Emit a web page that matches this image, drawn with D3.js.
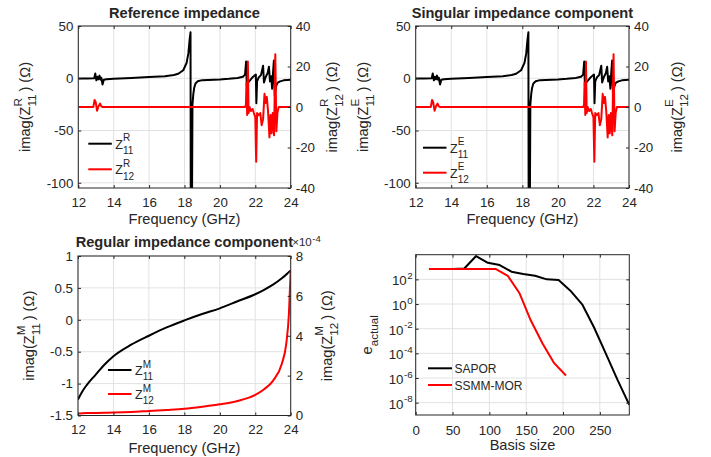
<!DOCTYPE html>
<html>
<head>
<meta charset="utf-8">
<script src="https://cdn.jsdelivr.net/npm/d3@7"></script>
<style>
  body { margin: 0; background: #fff; }
  svg text { font-family: "Liberation Sans", Arial, Helvetica, sans-serif; fill: #262626; }
</style>
</head>
<body>
<script>
// ---- values ----
// reference / singular impedance (the two top panels look identical at this scale)
var freqZ11 = [12, 12.5, 12.9, 12.96, 13.02, 13.08, 13.14, 13.2, 13.26, 13.3, 13.37, 13.44, 13.6, 14, 15, 16,
  16.9, 17.4, 17.65, 17.93, 18.12, 18.22, 18.29, 18.34, 18.36, 18.4, 18.45, 18.5, 18.55, 18.62, 18.75,
  19, 20, 20.5, 21, 21.3, 21.42, 21.48, 21.52, 21.6, 21.7, 21.85, 21.98, 22.03, 22.06, 22.1, 22.2, 22.32,
  22.44, 22.49, 22.58, 22.7, 22.77, 22.83, 22.9, 22.95, 23, 23.05, 23.1, 23.17, 23.25, 23.4, 23.6, 24];
var imagZ11 = [-0.3, -0.3, 0, 4.5, -2, 1.5, -1, 2.5, -1.5, 0.5, -6, -1.5, -1, -0.5, 0.3, 1.2,
  2, 3.2, 4.3, 7.7, 14.7, 24, 37, 44, -200, -200, -25, -15, -9, -5, -2.8,
  -1.8, -1.1, -0.5, 0.3, 1.5, 3.5, 16, -7, -4, -2, 1, 3, 3.5, -24, -3, 1, 3,
  12, -4, 1, 5, 11, -3, 2, -10, 5, 17, -17, -8, -4.5, -3, -2, -1.5];
var freqZ12 = [12, 12.85, 12.92, 12.98, 13.06, 13.15, 13.23, 13.3, 13.38, 21.42, 21.47, 21.5, 21.54, 21.58,
  21.62, 21.68, 21.75, 21.85, 21.92, 22, 22.05, 22.1, 22.18, 22.28, 22.36, 22.44, 22.52, 22.58, 22.65,
  22.72, 22.8, 22.86, 22.92, 22.98, 23.06, 23.13, 23.19, 23.25, 23.32, 24];
var imagZ12 = [0, 0, 3.5, 2.5, -1.8, 0.5, 1.7, 0.3, 0, 0, 1, 12, -4, 22.5,
  -3, 0, -2, -1, -3, -5, -27, -3, -4, -3, -9, -6, 6.5, 2, 5,
  -2, -15, -4, -13, -3, -14, 26, -12, -3, 0, 0];

// regular impedance component
var freqReg = [12, 12.25, 12.5, 13, 13.5, 14, 15, 16, 17, 18, 19, 20, 21, 22, 22.5, 23, 23.5, 23.75, 23.9, 24];
var imagZ11Reg = [-1.25, -1.12, -1.02, -0.86, -0.70, -0.57, -0.39, -0.25, -0.12, -0.01, 0.09, 0.18, 0.29,
  0.40, 0.47, 0.55, 0.65, 0.71, 0.75, 0.77];
var imagZ12Reg = [1.0e-5, 1.1e-5, 1.2e-5, 1.3e-5, 1.4e-5, 1.5e-5, 1.8e-5, 2.3e-5, 2.8e-5, 3.4e-5, 4.4e-5,
  5.6e-5, 7.3e-5, 1.03e-4, 1.32e-4, 1.74e-4, 2.6e-4, 3.6e-4, 5.1e-4, 7.3e-4];

// error vs basis size
var basisSapor = [18, 34, 50, 66, 82, 98, 114, 130, 146, 162, 178, 194, 210, 226, 242, 258, 274, 290];
var errSapor = [680, 680, 680, 760, 7800, 2200, 1450, 420, 270, 195, 100, 87, 12, 0.95, 0.013, 1e-4, 7e-7, 6.6e-9];
var basisSsmm = [18, 34, 50, 66, 82, 98, 109, 125, 141, 156, 172, 188, 204];
var errSsmm = [680, 680, 680, 680, 680, 680, 680, 195, 7.4, 0.05, 6.6e-4, 1.6e-5, 1.6e-6];

// ticks
var freqTicks = [12, 14, 16, 18, 20, 22, 24];
var leftTicksTop = [-100, -50, 0, 50];
var rightTicksTop = [-40, -20, 0, 20, 40];
var leftTicksReg = [-1.5, -1, -0.5, 0, 0.5, 1];
var rightTicksReg = [0, 2e-4, 4e-4, 6e-4, 8e-4];
var basisTicks = [0, 50, 100, 150, 200, 250];
var errTicks = [1e-8, 1e-6, 1e-4, 1e-2, 1, 1e2];

var INK = '#262626', GRID = '#e2e2e2', RED = '#ff0000';
var FS = 13.3, FL = 14.6, FLEG = 12.5;

var svg = d3.select('body').append('svg').attr('width', 711).attr('height', 457);
var clipId = 0;

// text with stacked super/subscript: prefix, sup, sub, suffix
function richText(g, prefix, sup, sub, suffix, size) {
  var x = 0, small = size * 0.8, w = 0;
  var a = g.append('text').attr('x', 0).attr('y', 0).style('font-size', size + 'px').text(prefix);
  x += a.node().getComputedTextLength();
  if (sup) {
    var s = g.append('text').attr('x', x).attr('y', -size * 0.6).style('font-size', small + 'px').text(sup);
    w = s.node().getComputedTextLength();
  }
  if (sub) {
    var b = g.append('text').attr('x', x).attr('y', size * 0.42).style('font-size', small + 'px').text(sub);
    w = Math.max(w, b.node().getComputedTextLength());
  }
  x += w;
  if (suffix) {
    var c = g.append('text').attr('x', x).attr('y', 0).style('font-size', size + 'px').text(suffix);
    x += c.node().getComputedTextLength();
  }
  return x;
}

function yLabel(cx, cy, prefix, sup, sub, suffix) {
  var g = svg.append('g').attr('transform', 'translate(' + cx + ',' + cy + ') rotate(-90)');
  var inner = g.append('g');
  var w = richText(inner, prefix, sup, sub, suffix, FL);
  inner.attr('transform', 'translate(' + (-w / 2) + ',0)');
}

function styleAxis(s) {
  s.select('.domain').remove();
  s.selectAll('line').attr('stroke', INK);
  s.selectAll('text').attr('fill', INK).style('font-size', FS + 'px').style('font-family', null);
}

function gridLines(box, x, xt, y, yt) {
  var g = svg.append('g');
  g.selectAll('line.gx').data(xt).enter().append('line').attr('class', 'gx')
    .attr('x1', function(d) { return x(d); }).attr('x2', function(d) { return x(d); })
    .attr('y1', box.top).attr('y2', box.bottom).attr('stroke', GRID);
  g.selectAll('line.gy').data(yt).enter().append('line').attr('class', 'gy')
    .attr('y1', function(d) { return y(d); }).attr('y2', function(d) { return y(d); })
    .attr('x1', box.left).attr('x2', box.right).attr('stroke', GRID);
}

function drawSeries(box, x, y, xs, ys, color, curve) {
  var id = 'clip' + (clipId++);
  svg.append('clipPath').attr('id', id).append('rect')
    .attr('x', box.left).attr('y', box.top)
    .attr('width', box.right - box.left).attr('height', box.bottom - box.top);
  var line = d3.line().x(function(d) { return x(d[0]); }).y(function(d) { return y(d[1]); })
    .curve(curve || d3.curveLinear);
  svg.append('path').datum(d3.zip(xs, ys))
    .attr('clip-path', 'url(#' + id + ')')
    .attr('fill', 'none').attr('stroke', color).attr('stroke-width', 2)
    .attr('stroke-linejoin', 'round')
    .attr('d', line);
}

function xAxes(box, x, ticks, fmt, pad) {
  svg.append('g').attr('transform', 'translate(0,' + box.bottom + ')')
    .call(d3.axisBottom(x).tickValues(ticks).tickSizeInner(-3).tickSizeOuter(0).tickPadding(pad || 9.5).tickFormat(fmt))
    .call(styleAxis);
  svg.append('g').attr('transform', 'translate(0,' + box.top + ')')
    .call(d3.axisTop(x).tickValues(ticks).tickSizeInner(-3).tickSizeOuter(0).tickFormat(''))
    .call(styleAxis);
}

function leftAxis(box, y, ticks, fmt) {
  return svg.append('g').attr('transform', 'translate(' + box.left + ',0)')
    .call(d3.axisLeft(y).tickValues(ticks).tickSizeInner(-3).tickSizeOuter(0).tickPadding(5).tickFormat(fmt))
    .call(styleAxis);
}

function rightAxis(box, y, ticks, fmt) {
  return svg.append('g').attr('transform', 'translate(' + box.right + ',0)')
    .call(d3.axisRight(y).tickValues(ticks).tickSizeInner(-3).tickSizeOuter(0).tickPadding(5).tickFormat(fmt))
    .call(styleAxis);
}

function frameBox(box) {
  svg.append('rect').attr('x', box.left).attr('y', box.top)
    .attr('width', box.right - box.left).attr('height', box.bottom - box.top)
    .attr('fill', 'none').attr('stroke', INK).attr('stroke-width', 1);
}

function title(box, txt, y) {
  svg.append('text').attr('x', (box.left + box.right) / 2).attr('y', y)
    .attr('text-anchor', 'middle').style('font-size', FL + 'px').style('font-weight', 'bold').text(txt);
}

function xLabel(box, txt, y) {
  svg.append('text').attr('x', (box.left + box.right) / 2).attr('y', y)
    .attr('text-anchor', 'middle').style('font-size', FL + 'px').text(txt);
}

function legendZ(x, y, gap, tag) {
  [['11', '#000'], ['12', RED]].forEach(function(e, i) {
    var ly = y + i * gap;
    svg.append('line').attr('x1', x).attr('x2', x + 23.5).attr('y1', ly).attr('y2', ly)
      .attr('stroke', e[1]).attr('stroke-width', 2);
    var g = svg.append('g').attr('transform', 'translate(' + (x + 27) + ',' + (ly + 5) + ')');
    richText(g, 'Z', tag, e[0], '', FLEG);
  });
}

var fmtPlain = function(d) { return String(d); };

// ---- top panels: reference and singular impedance ----
function impedancePanel(box, ttl, tag, rightLabelX) {
  var x = d3.scaleLinear().domain([12, 24]).range([box.left, box.right]);
  var yL = d3.scaleLinear().domain([-105, 50]).range([box.bottom, box.top]);
  var yR = d3.scaleLinear().domain([-40, 40]).range([box.bottom, box.top]);
  gridLines(box, x, freqTicks, yL, leftTicksTop);
  drawSeries(box, x, yL, freqZ11, imagZ11, '#000');
  drawSeries(box, x, yR, freqZ12, imagZ12, RED);
  xAxes(box, x, freqTicks, fmtPlain);
  leftAxis(box, yL, leftTicksTop, fmtPlain);
  rightAxis(box, yR, rightTicksTop, fmtPlain);
  frameBox(box);
  title(box, ttl, box.top - 8);
  xLabel(box, 'Frequency (GHz)', box.bottom + 36);
  var cy = (box.top + box.bottom) / 2;
  yLabel(box.left - 48, cy, 'imag(Z', tag, '11', '\u2009) (\u03A9)');
  yLabel(rightLabelX, cy, 'imag(Z', tag, '12', '\u2009) (\u03A9)');
}

var boxTL = { left: 78.3, right: 290.7, top: 26, bottom: 188 };
var boxTR = { left: 415.7, right: 629, top: 26, bottom: 188 };
impedancePanel(boxTL, 'Reference impedance', 'R', 337);
legendZ(88.3, 143.7, 25.6, 'R');
impedancePanel(boxTR, 'Singular impedance component', 'E', 682);
legendZ(423, 147.7, 25, 'E');

// ---- bottom left: regular impedance ----
(function() {
  var box = { left: 78, right: 290.7, top: 256, bottom: 415.5 };
  var x = d3.scaleLinear().domain([12, 24]).range([box.left, box.right]);
  var yL = d3.scaleLinear().domain([-1.5, 1]).range([box.bottom, box.top]);
  var yR = d3.scaleLinear().domain([0, 8e-4]).range([box.bottom, box.top]);
  gridLines(box, x, freqTicks, yL, leftTicksReg);
  drawSeries(box, x, yL, freqReg, imagZ11Reg, '#000', d3.curveMonotoneX);
  drawSeries(box, x, yR, freqReg, imagZ12Reg, RED, d3.curveMonotoneX);
  xAxes(box, x, freqTicks, fmtPlain);
  leftAxis(box, yL, leftTicksReg, fmtPlain);
  rightAxis(box, yR, rightTicksReg, function(d) { return String(Math.round(d * 1e4)); });
  frameBox(box);
  title(box, 'Regular impedance component', box.top - 8.7);
  // axis multiplier
  var m = svg.append('g').attr('transform', 'translate(' + (box.right + 1.5) + ',' + (box.top - 10.5) + ')');
  var t1 = m.append('text').style('font-size', '11.5px').text('\u00D710');
  m.append('text').attr('x', t1.node().getComputedTextLength() + 0.5).attr('y', -4)
    .style('font-size', '9.5px').text('-4');
  xLabel(box, 'Frequency (GHz)', box.bottom + 37.5);
  var cy = (box.top + box.bottom) / 2;
  yLabel(33.5, cy, 'imag(Z', 'M', '11', '\u2009) (\u03A9)');
  yLabel(332, cy, 'imag(Z', 'M', '12', '\u2009) (\u03A9)');
  legendZ(108, 370, 24, 'M');
})();

// ---- bottom right: error vs basis size ----
(function() {
  var box = { left: 415.7, right: 629.3, top: 254.7, bottom: 415 };
  var x = d3.scaleLinear().domain([0, 290]).range([box.left, box.right]);
  var y = d3.scaleLog().domain([1e-9, 1e4]).range([box.bottom, box.top]);
  gridLines(box, x, basisTicks, y, errTicks);
  drawSeries(box, x, y, basisSapor, errSapor, '#000');
  drawSeries(box, x, y, basisSsmm, errSsmm, RED);
  xAxes(box, x, basisTicks, fmtPlain, 11);
  var ya = leftAxis(box, y, errTicks, function() { return ''; });
  rightAxis(box, y, errTicks, function() { return ''; });
  ya.selectAll('.tick').each(function(d) {
    var t = d3.select(this);
    t.select('text').remove();
    var ex = t.append('text').attr('text-anchor', 'start').attr('fill', INK)
      .style('font-size', '9.8px').attr('y', -1)
      .text(String(Math.round(Math.log10(d))));
    var we = ex.node().getComputedTextLength();
    var base = t.append('text').attr('text-anchor', 'start').attr('fill', INK)
      .style('font-size', FS + 'px').attr('y', 5.5).text('10');
    var wb = base.node().getComputedTextLength();
    ex.attr('x', -3 - we);
    base.attr('x', -3.5 - we - wb);
  });
  frameBox(box);
  xLabel(box, 'Basis size', box.bottom + 35);
  var g = svg.append('g').attr('transform', 'translate(372,' + ((box.top + box.bottom) / 2) + ') rotate(-90)');
  var inner = g.append('g');
  var w = richText(inner, 'e', '', 'actual', '', FL);
  inner.attr('transform', 'translate(' + (-w / 2) + ',0)');
  // legend
  [['SAPOR', '#000'], ['SSMM-MOR', RED]].forEach(function(e, i) {
    var ly = 368.3 + i * 16.7;
    svg.append('line').attr('x1', 428).attr('x2', 452).attr('y1', ly).attr('y2', ly)
      .attr('stroke', e[1]).attr('stroke-width', 2);
    svg.append('text').attr('x', 454.5).attr('y', ly + 5).style('font-size', '12px').text(e[0]);
  });
})();
</script>
</body>
</html>
